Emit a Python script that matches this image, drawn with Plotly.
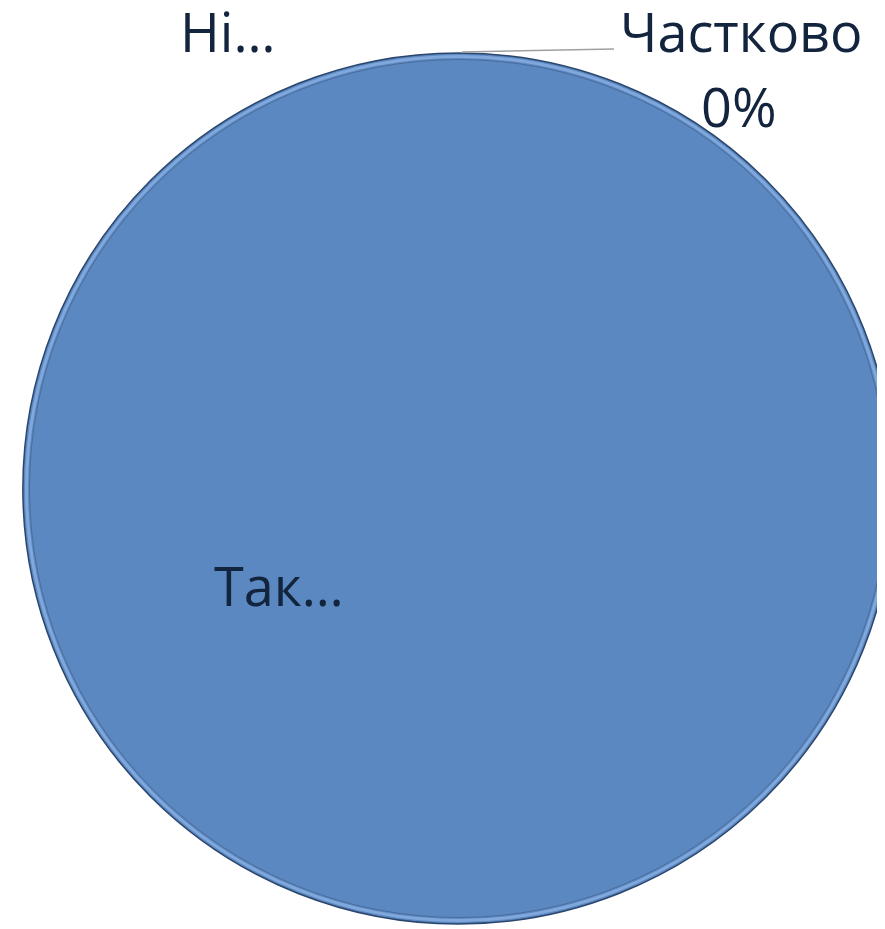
import plotly.graph_objects as go

categories = ["Так", "Ні", "Частково"]
values = [100, 0, 0]
shown_labels = ["Так…", "Ні…", "Частково"]

# The pie in the reference runs off the right edge of the window, so the
# figure is a little larger than the window and page overflow is hidden.
W, H = 900, 921
OFF = 8  # body margin of the generated page


def px(x):
    return (x - OFF) / W


def py(y):
    return 1 - (y - OFF) / H


# circle in reference pixels
cx, cy, r = 458.5, 488.5, 435.5

fig = go.Figure()
fig.add_trace(go.Pie(
    labels=categories,
    values=values,
    sort=False,
    direction="clockwise",
    rotation=0,
    textinfo="none",
    hoverinfo="label+percent",
    marker=dict(colors=["#5b88c1", "#c0504d", "#9bbb59"],
                line=dict(color=["#2a466c", "rgba(0,0,0,0)", "rgba(0,0,0,0)"],
                          width=[1.5, 0, 0])),
    domain=dict(x=[px(cx - r), px(cx + r)], y=[py(cy + r), py(cy - r)]),
    showlegend=False,
))

# bevel rings along the rim
for dr, col, wd in [(3.5, "#80a8dc", 3), (6.5, "#4a6d9c", 1)]:
    rr = r - dr
    fig.add_shape(type="circle", xref="paper", yref="paper",
                  x0=px(cx - rr), x1=px(cx + rr), y0=py(cy + rr), y1=py(cy - rr),
                  line=dict(color=col, width=wd), fillcolor="rgba(0,0,0,0)",
                  layer="above")

font_fam = "Open Sans, Noto Sans, sans-serif"
txt_color = "#13243e"
FS = 54

total = sum(values)
pct_part = f"{round(100 * values[2] / total)}%"


def label(x, y, text):
    fig.add_annotation(x=px(x), y=py(y), xref="paper", yref="paper",
                       xanchor="center", yanchor="middle",
                       text=text, showarrow=False,
                       font=dict(family=font_fam, size=FS, color=txt_color))


label(279, 585, shown_labels[0])
label(227, 31, shown_labels[1])
label(741, 31, shown_labels[2])
label(739, 106, pct_part)

# leader line
fig.add_shape(type="line", xref="paper", yref="paper",
              x0=px(462), y0=py(52), x1=px(614), y1=py(49),
              line=dict(color="#a0a0a0", width=1.5))

fig.update_layout(
    width=W, height=H,
    margin=dict(l=0, r=0, t=0, b=0),
    paper_bgcolor="white",
    plot_bgcolor="white",
)

fig.write_html(
    "out.html",
    post_script=("document.documentElement.style.overflow='hidden';"
                 "document.body.style.overflow='hidden';"),
)
